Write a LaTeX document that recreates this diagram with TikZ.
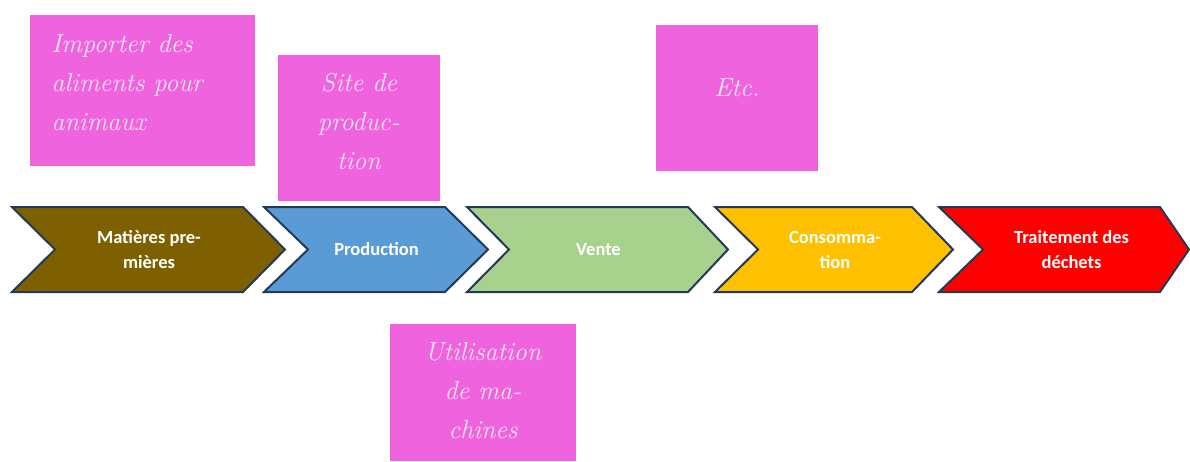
\documentclass[tikz,border=0pt]{standalone}
\usepackage{fontspec}
\newfontfamily\chevfont{Carlito}
\definecolor{rawbrown}{HTML}{7F6000}
\definecolor{prodblue}{HTML}{5B9BD5}
\definecolor{salegreen}{HTML}{A9D18E}
\definecolor{consyellow}{HTML}{FFC000}
\definecolor{wastered}{HTML}{FF0000}
\definecolor{chevborder}{HTML}{22395A}
\definecolor{notepink}{HTML}{EF63DE}
\definecolor{notewhite}{HTML}{FCE6F8}
\tikzset{
  chev/.style={draw=chevborder, line width=2pt, line join=miter},
  chevtext/.style={text=white, font=\chevfont\bfseries\fontsize{18.5}{25}\selectfont, align=center},
  note/.style={fill=notepink},
  notetext/.style={text=notewhite, font=\itshape\fontsize{26}{39}\selectfont, align=center},
}
\begin{document}
\begin{tikzpicture}[x=1pt,y=-1pt]
\useasboundingbox (0,0) rectangle (1190,461);
% Sticky notes with the examples
\fill[note] (30,15) rectangle (255,166);
\node[notetext, anchor=west, align=left] (import) at (48,83) {Importer des\\aliments pour\\animaux};
\fill[note] (278,55) rectangle (440,201);
\node[notetext] (site) at (359,121) {Site de\\produc-\\tion};
\fill[note] (390,324) rectangle (576,461);
\node[notetext] (machines) at (483,391) {Utilisation\\de ma-\\chines};
\fill[note] (656,25) rectangle (818,171);
\node[notetext] (etc) at (737,88) {Etc.};
% Chevrons of the chain
\draw[chev, fill=rawbrown] (12,207) -- (243,207) -- (285,249.5) -- (243,292) -- (12,292) -- (55,249.5) -- cycle;
\node[chevtext] (matieres) at (149,249.5) {Matières pre-\\mières};
\draw[chev, fill=prodblue] (264,207) -- (445,207) -- (488,249.5) -- (445,292) -- (264,292) -- (308,249.5) -- cycle;
\node[chevtext] (production) at (376.5,249.5) {Production};
\draw[chev, fill=salegreen] (467,207) -- (688,207) -- (728,249.5) -- (688,292) -- (467,292) -- (509,249.5) -- cycle;
\node[chevtext] (vente) at (598.5,249.5) {Vente};
\draw[chev, fill=consyellow] (715,207) -- (912,207) -- (953,249.5) -- (912,292) -- (715,292) -- (758,249.5) -- cycle;
\node[chevtext] (conso) at (835,249.5) {Consomma-\\tion};
\draw[chev, fill=wastered] (939,207) -- (1160,207) -- (1189,249.5) -- (1160,292) -- (939,292) -- (983,249.5) -- cycle;
\node[chevtext] (dechets) at (1071.5,249.5) {Traitement des\\déchets};
\end{tikzpicture}
\end{document}
